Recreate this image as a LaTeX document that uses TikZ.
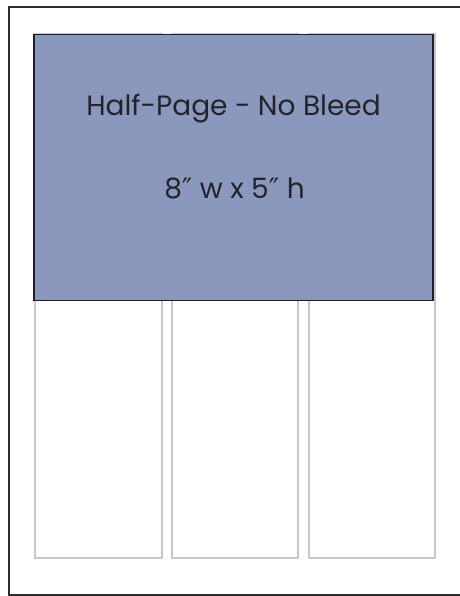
\documentclass[tikz,border=0pt]{standalone}
\usepackage{fontspec}
\setmainfont{Poppins}
\newfontfamily\primefont{DejaVu Sans}
\newcommand{\inch}{{\primefont ″}}
\usetikzlibrary{positioning,calc}
\definecolor{pageline}{RGB}{45,45,48}
\definecolor{colline}{RGB}{200,200,202}
\definecolor{adfill}{RGB}{139,152,190}
\definecolor{adline}{RGB}{30,30,36}
\definecolor{adtext}{RGB}{35,35,40}
\tikzset{
  page/.style={draw=pageline,line width=1.6pt,fill=white,inner sep=0pt},
  column/.style={draw=colline,line width=1.5pt,fill=white,inner sep=0pt},
  adbox/.style={draw=adline,fill=adfill,line width=1.5pt,inner sep=0pt},
  adlabel/.style={text=adtext,font=\fontsize{28}{33}\selectfont,inner sep=0pt},
}
\begin{document}
\begin{tikzpicture}[x=1pt,y=-1pt]
  \useasboundingbox (0,0) rectangle (459,596);
  % page outline, right edge runs off the picture
  \draw[page] (470,7) -- (9,7) -- (9,595) -- (470,595);
  % three text columns behind the ad
  \foreach \n/\xa/\xb in {colA/35/162,colB/172/298,colC/309/435}{
    \node[column,minimum width={(\xb-\xa)*1pt},minimum height=524pt]
      (\n) at ({(\xa+\xb)/2},296) {};}
  % half-page ad
  \node[adbox,minimum width=399pt,minimum height=266pt] (ad) at (233.5,167.5) {};
  \node[adlabel] (adname) at (233.5,109) {Half-Page - No Bleed};
  \node[adlabel] (adsize) at (234.5,188) {8\inch{} w x 5\inch{} h};
\end{tikzpicture}
\end{document}
